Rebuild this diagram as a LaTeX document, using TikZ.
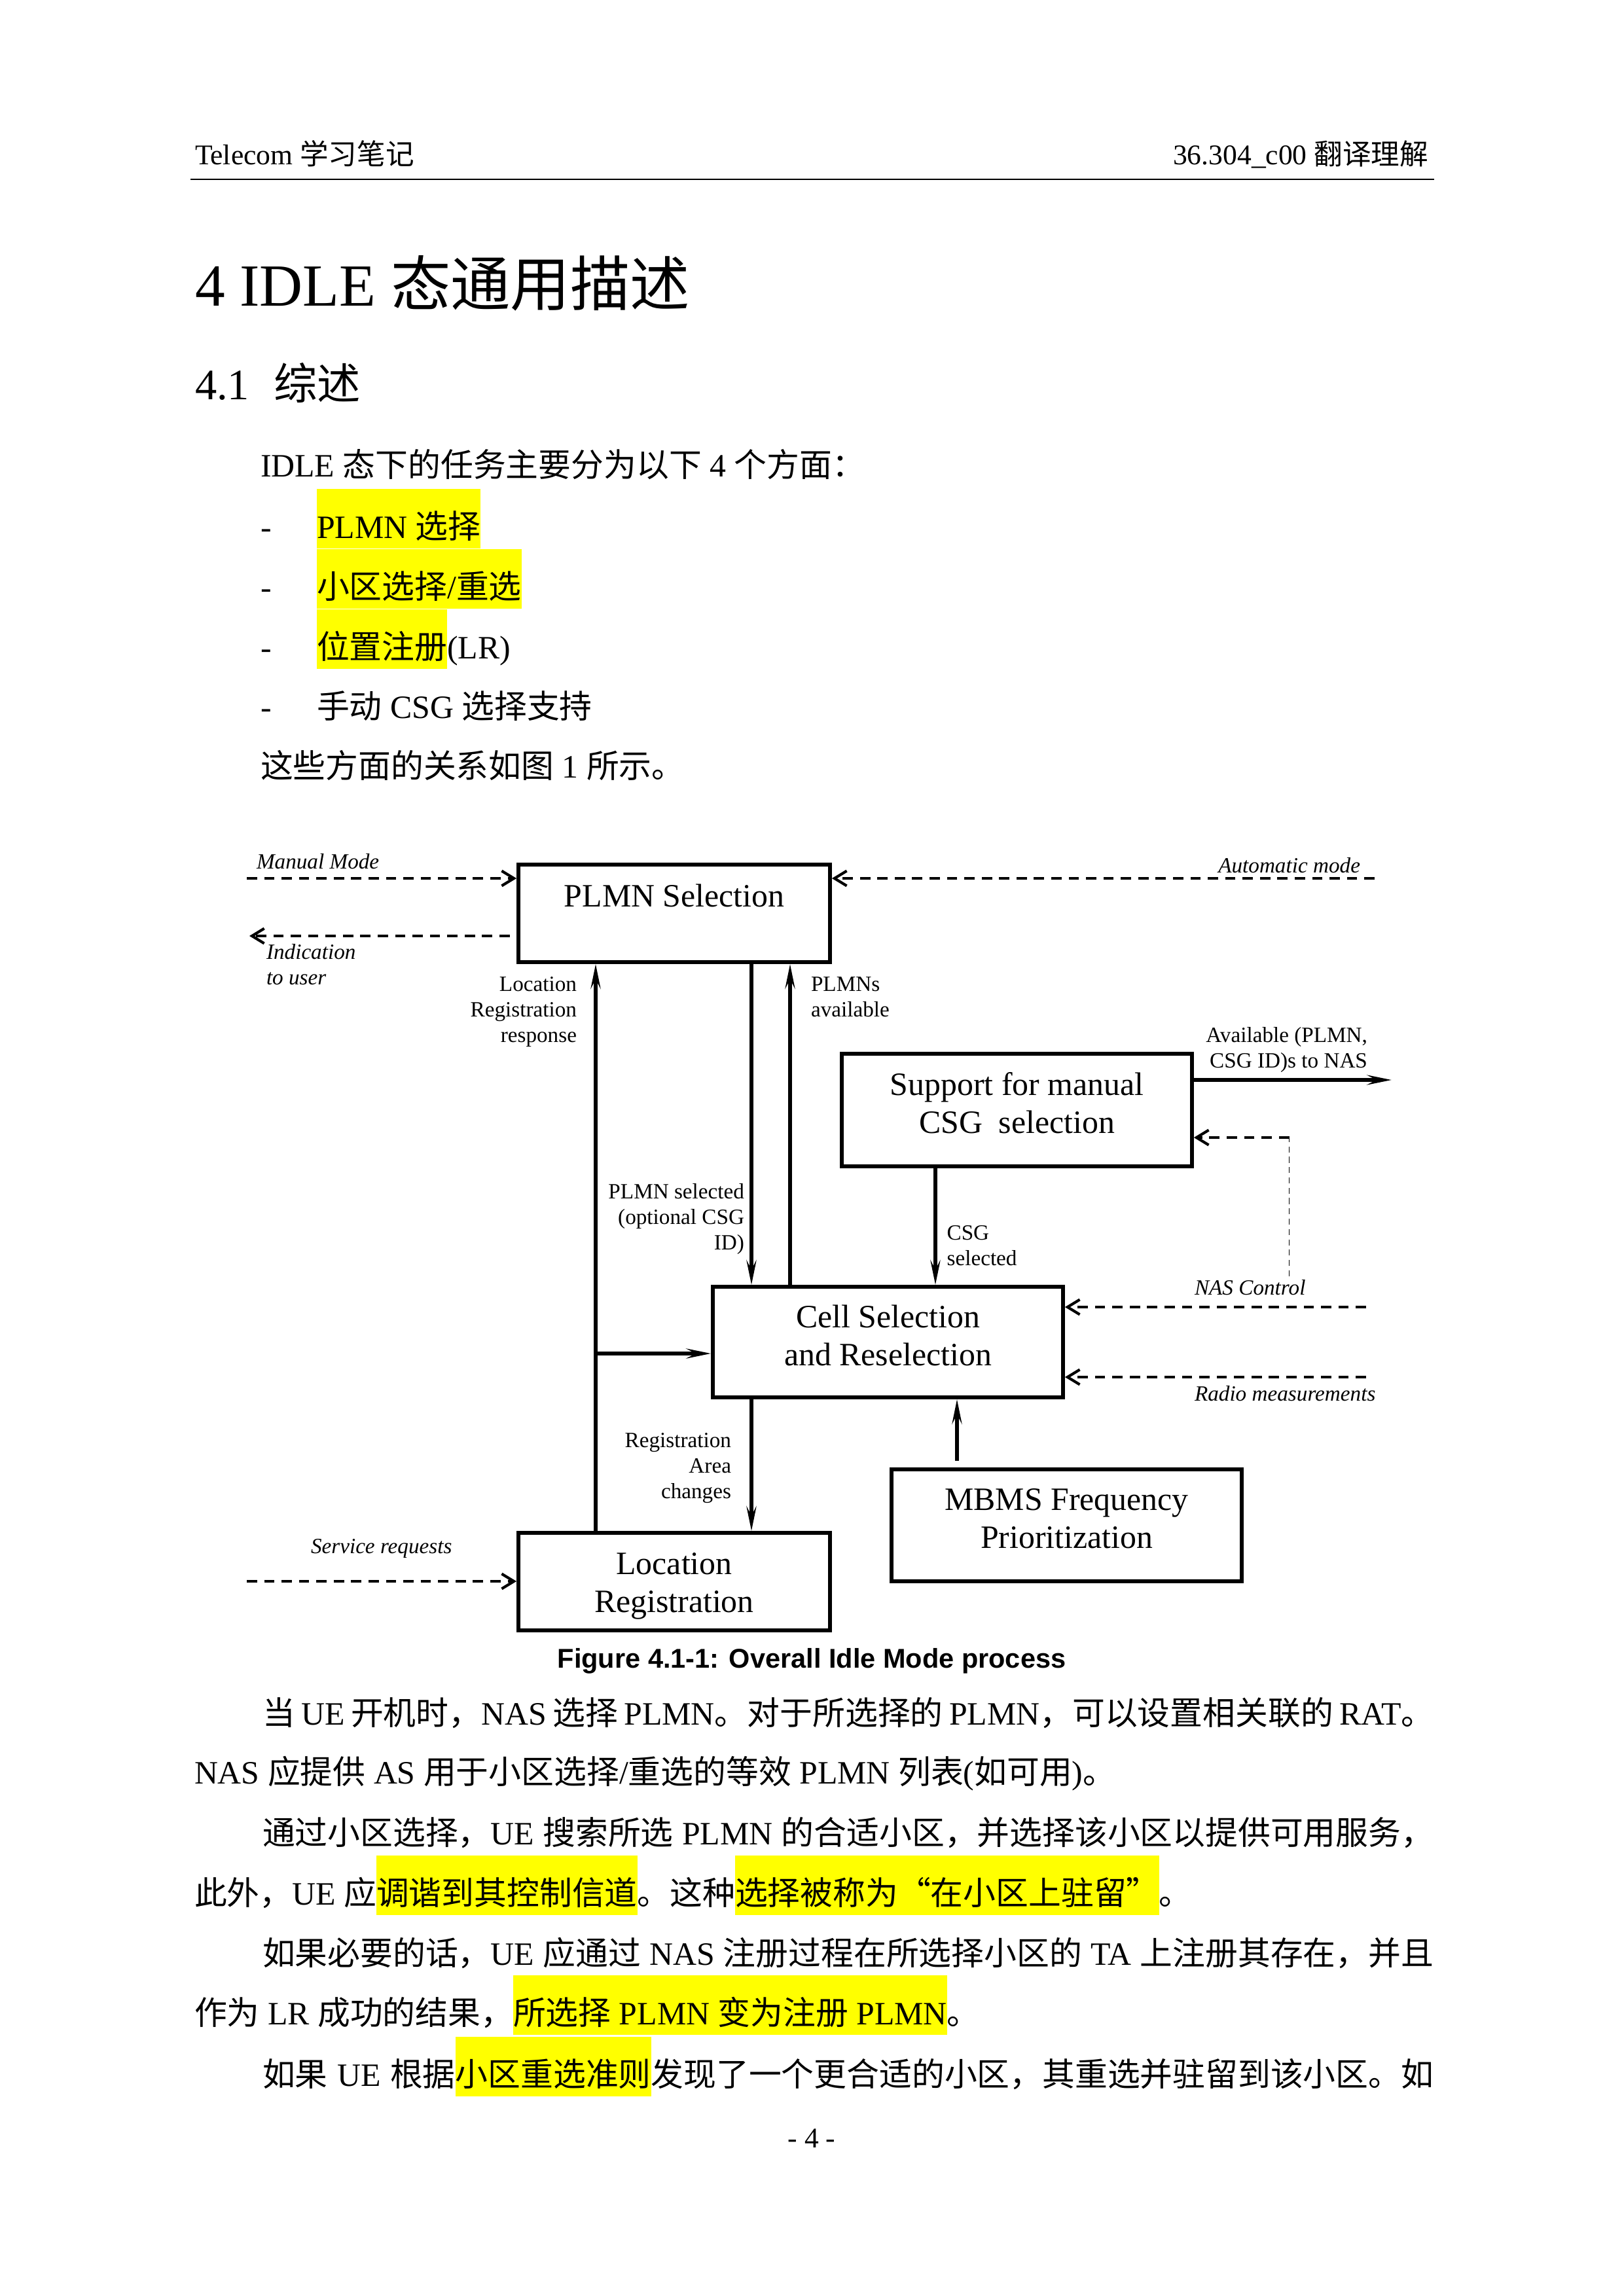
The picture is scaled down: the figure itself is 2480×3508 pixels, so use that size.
\documentclass[tikz,border=0pt]{standalone}
\usepackage{fontspec}
\setmainfont{Liberation Serif}
\newfontfamily\cjkfont{Noto Sans CJK SC}
\newfontfamily\sansfont{Liberation Sans}
\usetikzlibrary{arrows.meta}
\definecolor{hlyellow}{RGB}{255,255,0}

% automatic switch between Latin (Liberation Serif) and CJK (Noto Sans CJK SC)
\XeTeXinterchartokenstate=1
\newXeTeXintercharclass\cjkcls
\newcount\cjkcnt
\def\setcjkrange#1#2{\cjkcnt=#1 \loop\XeTeXcharclass\cjkcnt=\cjkcls \advance\cjkcnt by 1 \ifnum\cjkcnt<#2 \repeat}
\setcjkrange{"4E00}{"A000}
\setcjkrange{"3000}{"3040}
\setcjkrange{"FF00}{"FFF0}
\XeTeXcharclass"201C=\cjkcls
\XeTeXcharclass"201D=\cjkcls
\XeTeXinterchartoks 0 \cjkcls = {\cjkfont}
\XeTeXinterchartoks 4095 \cjkcls = {\cjkfont}
\XeTeXinterchartoks \cjkcls 0 = {\rmfamily}
\XeTeXinterchartoks \cjkcls 4095 = {\rmfamily}

\newcommand\hl[1]{{\setlength{\fboxsep}{0pt}\colorbox{hlyellow}{\rule[-3.84bp]{0pt}{21.84bp}#1}}}
\newcommand\stk[2]{\begin{tabular}[t]{@{}#1@{}}#2\end{tabular}}
\newcommand\bodyfont{\fontsize{12pt}{14pt}\selectfont\spaceskip=3pt plus 6pt minus 1.6pt\relax}

\begin{document}
\begin{tikzpicture}[x=0.24bp,y=-0.24bp,
  every node/.style={inner sep=0pt, outer sep=0pt},
  bx/.style 2 args={draw, line width=1.4pt, outer sep=0.7pt, minimum width=#1*0.24bp, minimum height=#2*0.24bp},
  boxtxt/.style={font=\fontsize{12pt}{14pt}\selectfont, anchor=base},
  lbl/.style={font=\fontsize{8pt}{9.4pt}\selectfont},
  lbli/.style={font=\fontsize{8pt}{9.4pt}\selectfont\itshape},
  bt/.style={font=\bodyfont, anchor=base west},
  hdr/.style={font=\fontsize{10.5pt}{12pt}\selectfont},
  solidarr/.style={line width=1.3pt, -{Stealth[length=9pt,width=3.6pt,inset=3.4pt]}},
  dasharr/.style={line width=1pt, dash pattern=on 3.8pt off 2.6pt, -{Straight Barb[length=4.5pt,width=5.5pt]}},
  thindash/.style={line width=0.45pt, dash pattern=on 2.2pt off 1.6pt}
]
\useasboundingbox (0,0) rectangle (2480,3508);
\fill[white] (0,0) rectangle (2480,3508);

% ---------- header ----------
\node[hdr, anchor=base west] (hdrL) at (298,251) {Telecom 学习笔记};
\node[hdr, anchor=base east] (hdrR) at (2182,251) {36.304\_c00 翻译理解};
\coordinate (ruleL) at (291,274);
\coordinate (ruleR) at (2191,274);
\draw[line width=0.6pt] (ruleL) -- (ruleR);

% ---------- headings ----------
\node[anchor=base west, font=\fontsize{22pt}{26pt}\selectfont] (title) at (298,467) {4 IDLE 态通用描述};
\node[anchor=base west, font=\fontsize{16pt}{20pt}\selectfont] (sec) at (298,610) {4.1\hspace{9pt}综述};

% ---------- intro text ----------
\node[bt] (p0) at (398,728) {IDLE 态下的任务主要分为以下 4 个方面：};
\node[bt] (d1) at (398,822) {-};
\node[bt] (i1) at (484,822) {\hl{PLMN 选择}};
\node[bt] (d2) at (398,914) {-};
\node[bt] (i2) at (484,914) {\hl{小区选择/重选}};
\node[bt] (d3) at (398,1006) {-};
\node[bt] (i3) at (484,1006) {\hl{位置注册}(LR)};
\node[bt] (d4) at (398,1097) {-};
\node[bt] (i4) at (484,1097) {手动 CSG 选择支持};
\node[bt] (p1) at (398,1188) {这些方面的关系如图 1 所示。};

% ---------- diagram boxes ----------
\node[bx={476}{149}] (plmn) at (1030,1395.5) {};
\node[bx={535}{172}] (csg) at (1553.5,1696) {};
\node[bx={535}{169}] (cell) at (1356.5,2050.5) {};
\node[bx={476}{149}] (locreg) at (1030,2416.5) {};
\node[bx={535}{171}] (mbms) at (1629.5,2330.5) {};

\node[boxtxt] (plmnT) at (1030,1385) {PLMN Selection};
\node[boxtxt] (csgT) at (1553.5,1673) {\stk{c}{Support for manual\\CSG\ \ selection}};
\node[boxtxt] (cellT) at (1356.5,2028) {\stk{c}{Cell Selection\\and Reselection}};
\node[boxtxt] (locregT) at (1030,2405.5) {\stk{c}{Location\\Registration}};
\node[boxtxt] (mbmsT) at (1629.5,2307.5) {\stk{c}{MBMS Frequency\\Prioritization}};

% ---------- helper coordinates ----------
\coordinate (xA) at (910,0);
\coordinate (xB) at (1148,0);
\coordinate (xC) at (1207,0);
\coordinate (xD) at (1429,0);
\coordinate (xE) at (1462,0);
\coordinate (yH) at (0,2068);
\coordinate (mmS) at (377,1342);
\coordinate (indE) at (381,1430);
\coordinate (amS) at (2100,1342);
\coordinate (nasOut) at (2126,1650);
\coordinate (ncB) at (1969.5,1950);
\coordinate (ncT) at (1969.5,1738);
\coordinate (ncS) at (2087,1997);
\coordinate (rmS) at (2087,2104);
\coordinate (srS) at (377,2416);

% ---------- connectors ----------
\draw[dasharr] (mmS) -- (mmS -| plmn.west);
\draw[dasharr, shorten <=2.5pt] (indE -| plmn.west) -- (indE);
\draw[dasharr] (amS) -- (amS -| plmn.east);
\draw[solidarr] (locreg.north -| xA) -- (plmn.south -| xA);
\draw[solidarr] (xA |- yH) -- (cell.west |- yH);
\draw[solidarr] (plmn.south -| xB) -- (cell.north -| xB);
\draw[solidarr] (cell.north -| xC) -- (plmn.south -| xC);
\draw[solidarr] (cell.south -| xB) -- (locreg.north -| xB);
\draw[solidarr] (csg.south -| xD) -- (cell.north -| xD);
\draw[solidarr, shorten <=2.4pt] (mbms.north -| xE) -- (cell.south -| xE);
\draw[solidarr] (csg.east |- nasOut) -- (nasOut);
\draw[thindash] (ncB) -- (ncT);
\draw[dasharr] (ncT) -- (ncT -| csg.east);
\draw[dasharr] (ncS) -- (ncS -| cell.east);
\draw[dasharr] (rmS) -- (rmS -| cell.east);
\draw[dasharr] (srS) -- (srS -| locreg.west);

% ---------- connector labels ----------
\node[lbli, anchor=base west] (tMM) at (392,1327) {Manual Mode};
\node[lbli, anchor=base west] (tInd) at (407,1465) {\stk{l}{Indication\\to user}};
\node[lbli, anchor=base east] (tAM) at (2078,1333) {Automatic mode};
\node[lbl, anchor=base east] (tLR) at (881,1514) {\stk{r}{Location\\Registration\\response}};
\node[lbl, anchor=base west] (tPA) at (1239,1514) {\stk{l}{PLMNs\\available}};
\node[lbl, anchor=base east] (tAV) at (2089,1592.5) {\stk{r}{Available (PLMN,\\CSG ID)s to NAS}};
\node[lbl, anchor=base east] (tPS) at (1137,1831) {\stk{r}{PLMN selected\\(optional CSG\\ID)}};
\node[lbl, anchor=base west] (tCS) at (1446.6,1894) {\stk{l}{CSG\\selected}};
\node[lbli, anchor=base west] (tNC) at (1825,1978) {NAS Control};
\node[lbli, anchor=base west] (tRM) at (1825,2140) {Radio measurements};
\node[lbl, anchor=base east] (tRA) at (1117,2211.6) {\stk{r}{Registration\\Area\\changes}};
\node[lbli, anchor=base west] (tSR) at (475,2373) {Service requests};

% ---------- caption ----------
\node[anchor=base, font=\sansfont\bfseries\fontsize{10pt}{12pt}\selectfont] (cap) at (1240,2548) {Figure 4.1-1: Overall Idle Mode process};

% ---------- body text ----------
\node[bt] (q1) at (401,2635) {\hbox to 429.4bp{当 UE 开机时，NAS 选择 PLMN。对于所选择的 PLMN，可以设置相关联的 RAT。}};
\node[bt] (q2) at (297,2725) {NAS 应提供 AS 用于小区选择/重选的等效 PLMN 列表(如可用)。};
\node[bt] (q3) at (401,2818) {\hbox to 429.4bp{通过小区选择，UE 搜索所选 PLMN 的合适小区，并选择该小区以提供可用服务，}};
\node[bt] (q4) at (297,2910) {此外，UE 应\hl{调谐到其控制信道}。这种\hl{选择被称为“在小区上驻留”}。};
\node[bt] (q5) at (401,3002) {\hbox to 429.4bp{如果必要的话，UE 应通过 NAS 注册过程在所选择小区的 TA 上注册其存在，并且}};
\node[bt] (q6) at (297,3093) {作为 LR 成功的结果，\hl{所选择 PLMN 变为注册 PLMN}。};
\node[bt] (q7) at (401,3187) {\hbox to 429.4bp{如果 UE 根据\hl{小区重选准则}发现了一个更合适的小区，其重选并驻留到该小区。如}};
\node[hdr, anchor=base] (pg) at (1240,3281) {- 4 -};
\end{tikzpicture}
\end{document}
